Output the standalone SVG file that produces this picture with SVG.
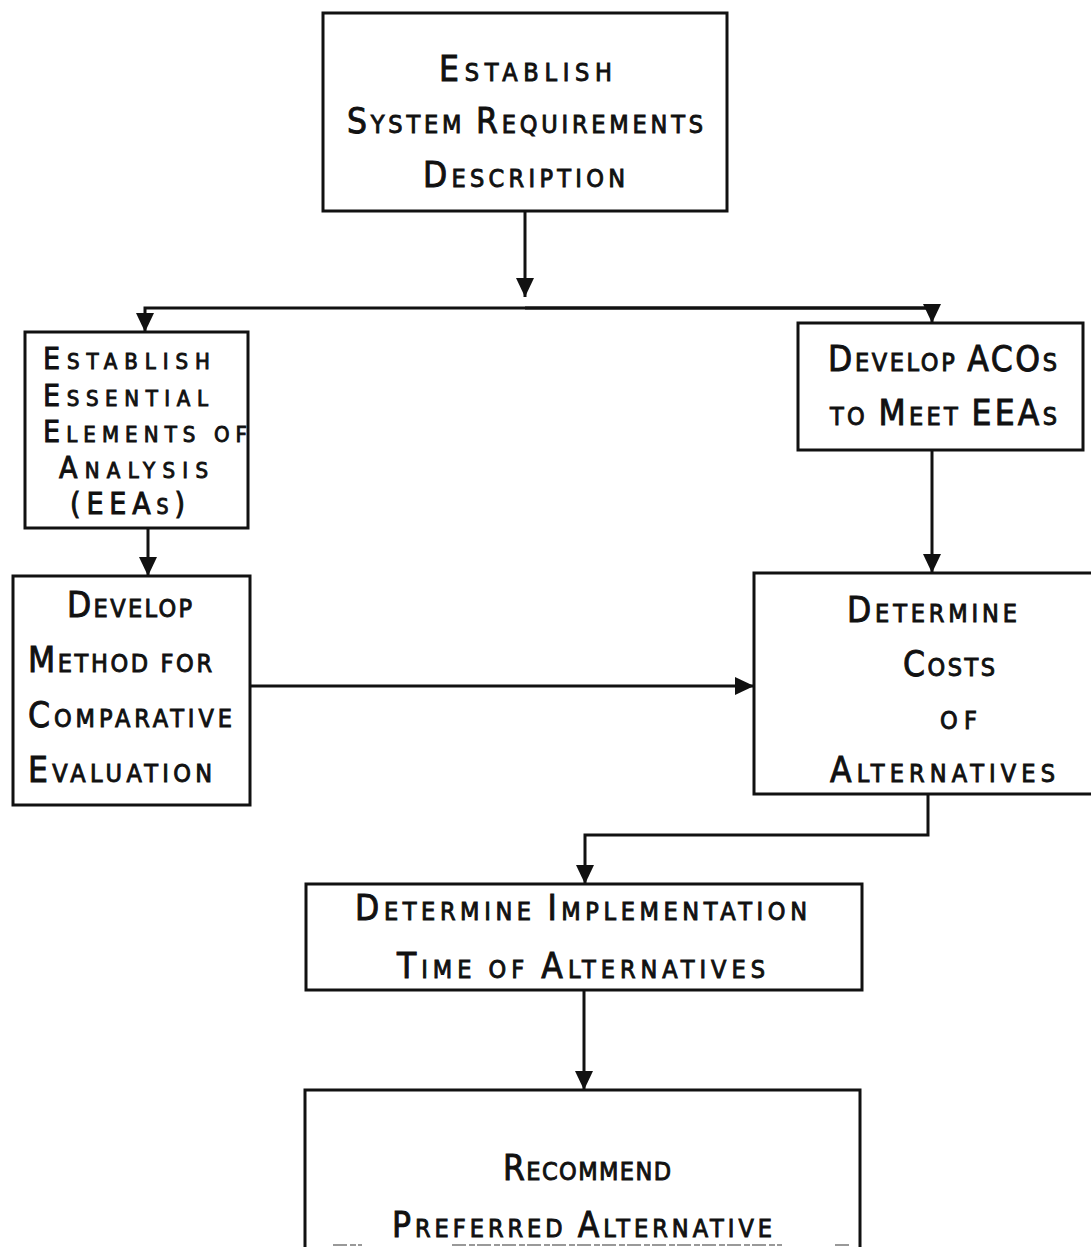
<svg xmlns="http://www.w3.org/2000/svg" width="1091" height="1247" viewBox="0 0 1091 1247">
  <style>
    .box { fill: #fff; stroke: #111; stroke-width: 3; }
    .wire { fill: none; stroke: #111; stroke-width: 3; }
    text { font-family: "DejaVu Sans", "Liberation Sans", sans-serif; font-stretch: condensed; fill: #111; stroke: #111; stroke-width: 0.9; font-size: 35px; }
    .s { font-size: 25px; }
    .ps { font-variant: small-caps; }
    .tight text { font-size: 30px; }
    .tight .s { font-size: 22px; }
    .scan { stroke: #999; stroke-width: 2; stroke-dasharray: 14 3 6 2; }
  </style>
  <defs>
    <marker id="arrow" markerUnits="userSpaceOnUse" markerWidth="19" markerHeight="20" refX="19" refY="10" orient="auto">
      <path d="M0,1 L19,10 L0,19 z" fill="#111"/>
    </marker>
  </defs>

  <rect width="1091" height="1247" fill="#fff"/>

  <!-- flow connectors -->
  <g id="connectors">
    <path class="wire" d="M525,211 L525,297" marker-end="url(#arrow)"/>
    <path class="wire" d="M932,308 L145,308 L145,332" marker-end="url(#arrow)"/>
    <path class="wire" d="M525,308 L932,308 L932,323" marker-end="url(#arrow)"/>
    <path class="wire" d="M148,528 L148,576" marker-end="url(#arrow)"/>
    <path class="wire" d="M932,450 L932,573" marker-end="url(#arrow)"/>
    <path class="wire" d="M250,686 L754,686" marker-end="url(#arrow)"/>
    <path class="wire" d="M928,794 L928,835 L585,835 L585,884" marker-end="url(#arrow)"/>
    <path class="wire" d="M584,990 L584,1090" marker-end="url(#arrow)"/>
  </g>

  <g id="requirements">
    <rect class="box" x="323" y="13" width="404" height="198"/>
    <text x="439" y="81" textLength="173" lengthAdjust="spacing">E<tspan class="s">STABLISH</tspan></text>
    <text x="347" y="133" textLength="356" lengthAdjust="spacing">S<tspan class="s">YSTEM </tspan>R<tspan class="s">EQUIREMENTS</tspan></text>
    <text x="423" y="187" textLength="202" lengthAdjust="spacing">D<tspan class="s">ESCRIPTION</tspan></text>
  </g>

  <g id="eeas" class="tight">
    <rect class="box" x="25" y="332" width="223" height="196"/>
    <text x="43" y="369" textLength="167" lengthAdjust="spacing">E<tspan class="s">STABLISH</tspan></text>
    <text x="43" y="406" textLength="165" lengthAdjust="spacing">E<tspan class="s">SSENTIAL</tspan></text>
    <text x="43" y="442" textLength="204" lengthAdjust="spacing">E<tspan class="s">LEMENTS OF</tspan></text>
    <text x="59" y="478" textLength="149" lengthAdjust="spacing">A<tspan class="s">NALYSIS</tspan></text>
    <text x="70" y="514" textLength="115" lengthAdjust="spacing">(EEA<tspan class="ps">s</tspan>)</text>
  </g>

  <g id="acos">
    <rect class="box" x="798" y="323" width="285" height="127"/>
    <text x="828" y="371" textLength="229" lengthAdjust="spacing">D<tspan class="s">EVELOP </tspan>ACO<tspan class="ps">s</tspan></text>
    <text x="830" y="425" textLength="227" lengthAdjust="spacing"><tspan class="s">TO </tspan>M<tspan class="s">EET </tspan>EEA<tspan class="ps">s</tspan></text>
  </g>

  <g id="method">
    <rect class="box" x="13" y="576" width="237" height="229"/>
    <text x="67" y="617" textLength="125" lengthAdjust="spacing">D<tspan class="s">EVELOP</tspan></text>
    <text x="28" y="672" textLength="184" lengthAdjust="spacing">M<tspan class="s">ETHOD FOR</tspan></text>
    <text x="28" y="727" textLength="204" lengthAdjust="spacing">C<tspan class="s">OMPARATIVE</tspan></text>
    <text x="28" y="782" textLength="184" lengthAdjust="spacing">E<tspan class="s">VALUATION</tspan></text>
  </g>

  <g id="costs">
    <rect class="box" x="754" y="573" width="345" height="221"/>
    <text x="847" y="622" textLength="170" lengthAdjust="spacing">D<tspan class="s">ETERMINE</tspan></text>
    <text x="903" y="676" textLength="92" lengthAdjust="spacing">C<tspan class="s">OSTS</tspan></text>
    <text x="940" y="729" textLength="37" lengthAdjust="spacing"><tspan class="s">OF</tspan></text>
    <text x="830" y="782" textLength="225" lengthAdjust="spacing">A<tspan class="s">LTERNATIVES</tspan></text>
  </g>

  <g id="implementation">
    <rect class="box" x="306" y="884" width="556" height="106"/>
    <text x="355" y="920" textLength="452" lengthAdjust="spacing">D<tspan class="s">ETERMINE </tspan>I<tspan class="s">MPLEMENTATION</tspan></text>
    <text x="397" y="978" textLength="368" lengthAdjust="spacing">T<tspan class="s">IME OF </tspan>A<tspan class="s">LTERNATIVES</tspan></text>
  </g>

  <g id="recommend">
    <rect class="box" x="305" y="1090" width="555" height="180"/>
    <text x="503" y="1180" textLength="168" lengthAdjust="spacing">R<tspan class="s">ECOMMEND</tspan></text>
    <text x="392" y="1237" textLength="380" lengthAdjust="spacing">P<tspan class="s">REFERRED </tspan>A<tspan class="s">LTERNATIVE</tspan></text>
  </g>

  <!-- edge of the following line, cut off at the sheet bottom -->
  <g id="cutoff">
    <line class="scan" x1="333" y1="1245" x2="362" y2="1245"/>
    <line class="scan" x1="452" y1="1245" x2="782" y2="1245"/>
    <line class="scan" x1="835" y1="1245" x2="852" y2="1245"/>
  </g>
</svg>
